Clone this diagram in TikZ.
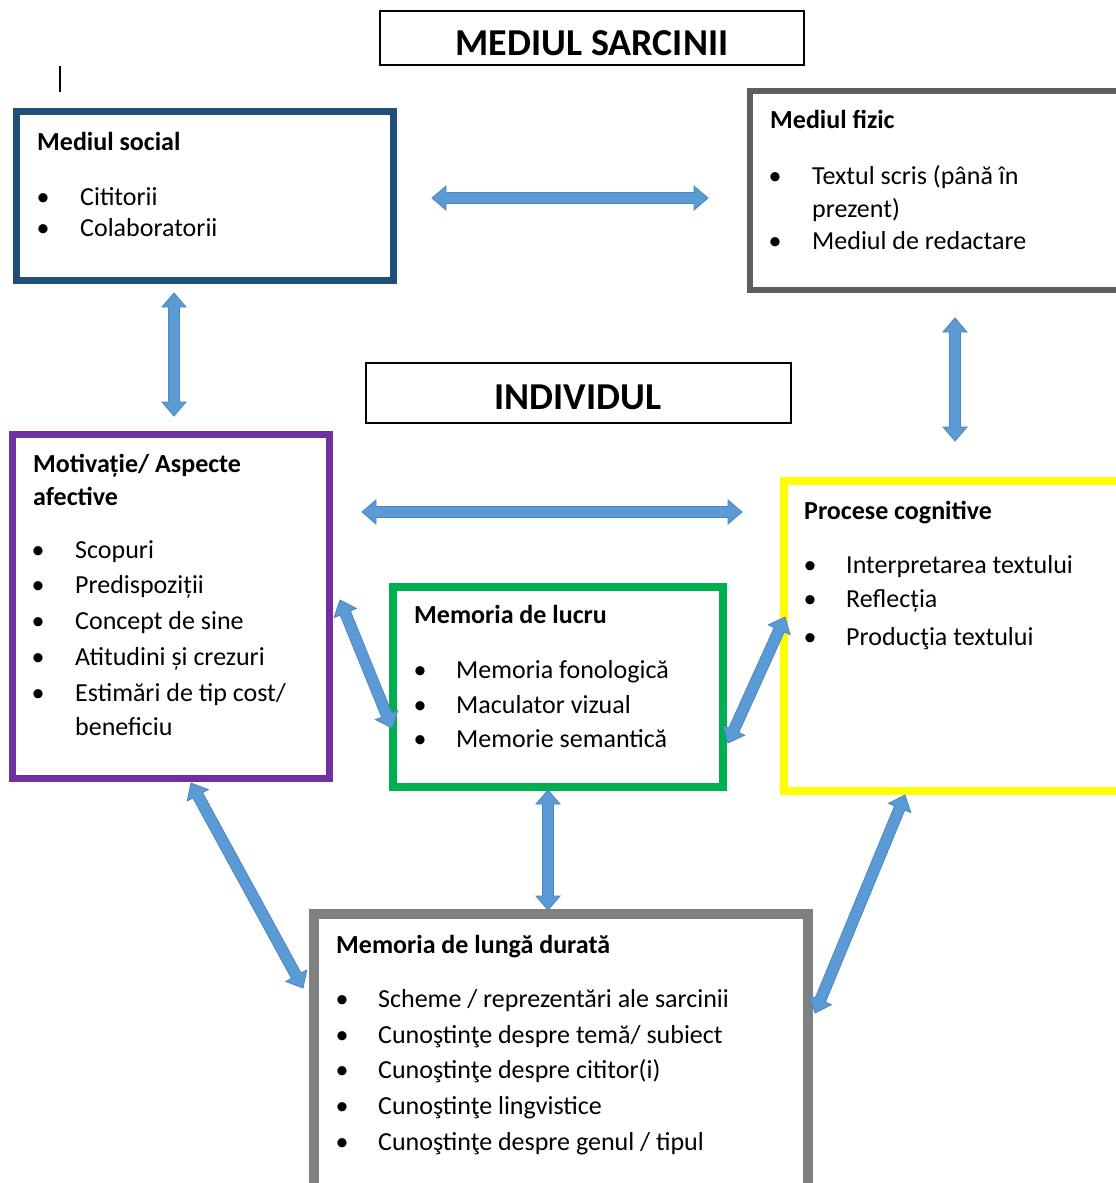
\documentclass[tikz,border=0pt]{standalone}
\usepackage{fontspec}
\setmainfont{Carlito}
\usetikzlibrary{calc}
\definecolor{socialc}{HTML}{1F4E79}
\definecolor{fizicc}{HTML}{5E5E5E}
\definecolor{purplec}{HTML}{7030A0}
\definecolor{greenc}{HTML}{00B050}
\definecolor{yellowc}{HTML}{FFFF00}
\definecolor{grayc}{HTML}{808080}
\definecolor{arrowfill}{HTML}{5B9BD5}
\definecolor{arrowline}{HTML}{4A86C0}
\tikzset{
  frame/.style={draw, rectangle, inner sep=0pt},
  body/.style={anchor=base west, inner sep=0pt, font=\fontsize{26}{31}\selectfont},
  head/.style={anchor=base west, inner sep=0pt, font=\fontsize{26}{31}\selectfont\bfseries},
  bul/.style={anchor=base, inner sep=0pt, font=\fontsize{26}{31}\selectfont},
  title/.style={anchor=base, inner sep=0pt, font=\fontsize{38}{44}\selectfont\bfseries},
  blockarrow/.style={fill=arrowfill, draw=arrowline, line width=0.8pt, line join=miter}
}
\newcommand\dblarrow[2]{%
  \path ($(#1)!14pt!(#2)$) coordinate (ha) ($(#2)!14pt!(#1)$) coordinate (hb);
  \filldraw[blockarrow] (#1) -- ($(ha)!12pt!-90:(#2)$) -- ($(ha)!5.5pt!-90:(#2)$)
    -- ($(hb)!5.5pt!90:(#1)$) -- ($(hb)!12pt!90:(#1)$) -- (#2)
    -- ($(hb)!12pt!-90:(#1)$) -- ($(hb)!5.5pt!-90:(#1)$)
    -- ($(ha)!5.5pt!90:(#2)$) -- ($(ha)!12pt!90:(#2)$) -- cycle;
}
\begin{document}
\begin{tikzpicture}[x=1pt, y=-1pt]
\useasboundingbox (0,0) rectangle (1116,1183);
\clip (0,0) rectangle (1116,1183);
\fill[white] (0,0) rectangle (1116,1183);

% cursor mark
\draw[line width=1.5pt] (60,66) -- (60,92);

% title boxes
\node[frame, line width=1.8pt, minimum width=424pt, minimum height=54pt] (sarcbox) at (592,38) {};
\node[title] (sarc) at (592,55) {MEDIUL SARCINII};
\node[frame, line width=1.8pt, minimum width=425pt, minimum height=60pt] (indbox) at (578.5,393) {};
\node[title] (ind) at (578,409) {INDIVIDUL};

% Mediul social
\node[frame, draw=socialc, line width=7pt, minimum width=377pt, minimum height=169pt] (social) at (205,196) {};
\node[head] (socialh) at (37,150) {Mediul social};
\node[bul] (sb1) at (43,205) {•};
\node[body] (st1) at (80,205) {Cititorii};
\node[bul] (sb2) at (43,236) {•};
\node[body] (st2) at (80,236) {Colaboratorii};

% Mediul fizic
\node[frame, draw=fizicc, line width=6pt, minimum width=380pt, minimum height=199pt] (fizic) at (940,190.5) {};
\node[head] (fizich) at (770,128) {Mediul fizic};
\node[bul] (fb1) at (775,184) {•};
\node[body] (ft1) at (812,184) {Textul scris (până în};
\node[body] (ft1b) at (812,217) {prezent)};
\node[bul] (fb2) at (775,249) {•};
\node[body] (ft2) at (812,249) {Mediul de redactare};

% Motivatie
\node[frame, draw=purplec, line width=7pt, minimum width=317pt, minimum height=344pt] (motiv) at (171,606.5) {};
\node[head] (motivh1) at (33,472) {Motivație/ Aspecte};
\node[head] (motivh2) at (33,505) {afective};
\node[bul] (mb1) at (38,558) {•};
\node[body] (mt1) at (75,558) {Scopuri};
\node[bul] (mb2) at (38,593) {•};
\node[body] (mt2) at (75,593) {Predispoziții};
\node[bul] (mb3) at (38,629) {•};
\node[body] (mt3) at (75,629) {Concept de sine};
\node[bul] (mb4) at (38,665) {•};
\node[body] (mt4) at (75,665) {Atitudini și crezuri};
\node[bul] (mb5) at (38,701) {•};
\node[body] (mt5) at (75,701) {Estimări de tip cost/};
\node[body] (mt5b) at (75,735) {beneficiu};

% Memoria de lucru
\node[frame, draw=greenc, line width=8pt, minimum width=330pt, minimum height=200pt] (lucru) at (558,687) {};
\node[head] (lucruh) at (414,623) {Memoria de lucru};
\node[bul] (lb1) at (420,678) {•};
\node[body] (lt1) at (456,678) {Memoria fonologică};
\node[bul] (lb2) at (420,713) {•};
\node[body] (lt2) at (456,713) {Maculator vizual};
\node[bul] (lb3) at (420,747) {•};
\node[body] (lt3) at (456,747) {Memorie semantică};

% Procese cognitive
\node[frame, draw=yellowc, line width=8pt, minimum width=346pt, minimum height=310pt] (cogn) at (957,636) {};
\node[head] (cognh) at (804,519) {Procese cognitive};
\node[bul] (cb1) at (810,573) {•};
\node[body] (ct1) at (846,573) {Interpretarea textului};
\node[bul] (cb2) at (810,607) {•};
\node[body] (ct2) at (846,607) {Reflecția};
\node[bul] (cb3) at (810,645) {•};
\node[body] (ct3) at (846,645) {Producţia textului};

% Memoria de lunga durata
\node[frame, draw=grayc, line width=10pt, minimum width=494pt, minimum height=281pt] (lunga) at (561,1054.5) {};
\node[head] (lungah) at (336,953) {Memoria de lungă durată};
\node[bul] (gb1) at (342,1007) {•};
\node[body] (gt1) at (378,1007) {Scheme / reprezentări ale sarcinii};
\node[bul] (gb2) at (342,1043) {•};
\node[body] (gt2) at (378,1043) {Cunoştinţe despre temă/ subiect};
\node[bul] (gb3) at (342,1078) {•};
\node[body] (gt3) at (378,1078) {Cunoştinţe despre cititor(i)};
\node[bul] (gb4) at (342,1114) {•};
\node[body] (gt4) at (378,1114) {Cunoştinţe lingvistice};
\node[bul] (gb5) at (342,1150) {•};
\node[body] (gt5) at (378,1150) {Cunoştinţe despre genul / tipul};

% arrow end points
\coordinate (a1s) at (432,198);  \coordinate (a1e) at (708,198);
\coordinate (a2s) at (174,293);  \coordinate (a2e) at (174,416);
\coordinate (a3s) at (955,318);  \coordinate (a3e) at (955,441);
\coordinate (a4s) at (362,512);  \coordinate (a4e) at (742,512);
\coordinate (a5s) at (340,600);  \coordinate (a5e) at (392,728);
\coordinate (a6s) at (785,617);  \coordinate (a6e) at (728,743);
\coordinate (a7s) at (191,783);  \coordinate (a7e) at (303,988);
\coordinate (a8s) at (548,790);  \coordinate (a8e) at (548,910);
\coordinate (a9s) at (905,795);  \coordinate (a9e) at (815,1013);

\dblarrow{a1s}{a1e}
\dblarrow{a2s}{a2e}
\dblarrow{a3s}{a3e}
\dblarrow{a4s}{a4e}
\dblarrow{a5s}{a5e}
\dblarrow{a6s}{a6e}
\dblarrow{a7s}{a7e}
\dblarrow{a8s}{a8e}
\dblarrow{a9s}{a9e}
\end{tikzpicture}
\end{document}
